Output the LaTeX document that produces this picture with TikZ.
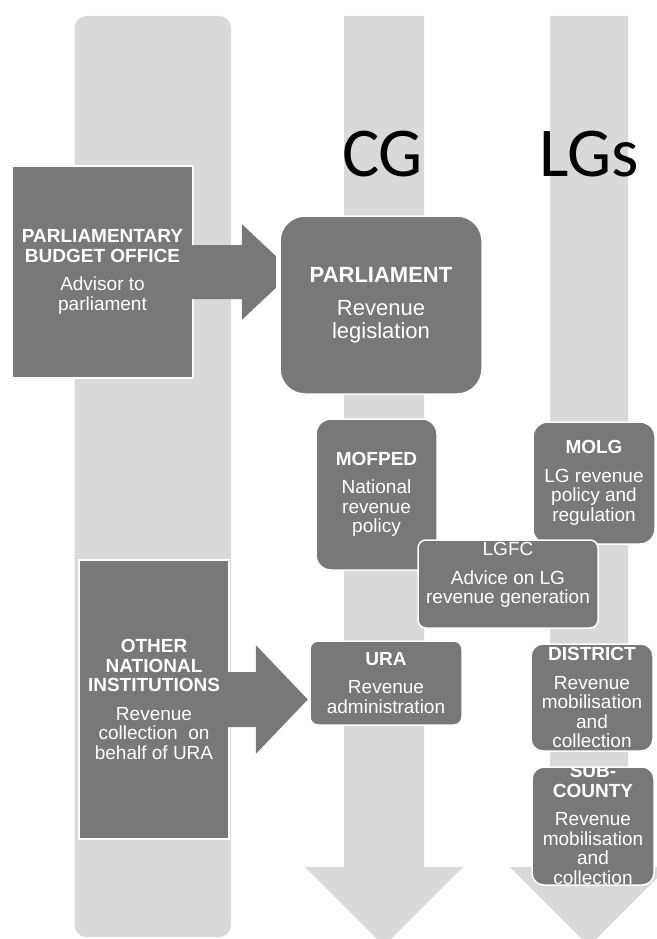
\documentclass[tikz,border=0pt]{standalone}
\usepackage{fontspec}
\setmainfont{Liberation Sans}
\newfontfamily\calfont{Carlito}
\usetikzlibrary{calc}
\definecolor{boxgray}{HTML}{787878}
\definecolor{shaftgray}{HTML}{D9D9D9}
\tikzset{
  box/.style={fill=boxgray, draw=white, line width=1.5pt, text=white, align=center, inner sep=0pt, font=\fontsize{19}{19.5}\selectfont},
  txt/.style={text=white, align=center, inner sep=0pt, draw=none, fill=none, font=\fontsize{19}{19.5}\selectfont},
  big/.style={font=\calfont\fontsize{70}{70}\selectfont, inner sep=0pt, anchor=base west, text=black},
  shaft/.style={fill=shaftgray},
  blockarrow/.style={fill=boxgray}
}
\begin{document}
\begin{tikzpicture}[x=1pt,y=-1pt]
\useasboundingbox (0,0) rectangle (656,939);
\fill[white] (0,0) rectangle (656,939);
% left panel
\node[shaft, rounded corners=12pt, minimum width=156.5pt, minimum height=921pt, inner sep=0pt] (panel) at (152.75,476.5) {};
% CG and LGs down arrows
\fill[shaft] (344,16) -- (424,16) -- (424,867) -- (463,867) -- (384,946) -- (305,867) -- (344,867) -- cycle;
\fill[shaft] (550,16) -- (628,16) -- (628,867) -- (668,867) -- (589,946) -- (510,867) -- (550,867) -- cycle;
\node[big] (cg) at (342,176) {CG};
\node[big] (lgs) at (539,176) {LGs};
% PBO
\node[box, minimum width=181pt, minimum height=212pt] (pbo) at (102.5,272)
  {\textbf{PARLIAMENTARY}\\\textbf{BUDGET OFFICE}\\[9pt]Advisor to\\parliament};
\fill[blockarrow] ($(pbo.east)+(-2,-27)$) -- ($(pbo.east)+(48,-27)$) -- ($(pbo.east)+(48,-48)$)
  -- ($(pbo.east)+(82,-16)$) -- ($(pbo.east)+(82,16)$) -- ($(pbo.east)+(48,48)$)
  -- ($(pbo.east)+(48,27)$) -- ($(pbo.east)+(-2,27)$) -- cycle;
% Parliament
\node[box, rounded corners=25pt, minimum width=202pt, minimum height=178pt, font=\fontsize{22}{23}\selectfont] (parl) at (381,305)
  {\textbf{PARLIAMENT}\\[10pt]Revenue\\legislation};
% MOFPED, MOLG
\node[box, rounded corners=15pt, minimum width=121pt, minimum height=151pt] (mofped) at (376.5,494.5)
  {\textbf{MOFPED}\\[9pt]National\\revenue\\policy};
\node[box, rounded corners=15pt, minimum width=122pt, minimum height=122pt] (molg) at (594,483)
  {\textbf{MOLG}\\[9pt]LG revenue\\policy and\\regulation};
% LGFC
\node[box, rounded corners=8pt, minimum width=180pt, minimum height=88pt] (lgfc) at (508,584) {};
\node[txt] (lgfctext) at (508,575) {LGFC\\[9pt]Advice on LG\\revenue generation};
% Other national institutions
\node[box, minimum width=150pt, minimum height=279pt] (oth) at (154,699.5)
  {\textbf{OTHER}\\\textbf{NATIONAL}\\\textbf{INSTITUTIONS}\\[9pt]Revenue\\collection~ on\\behalf of URA};
\fill[blockarrow] ($(oth.east)+(-2,-27.5)$) -- ($(oth.east)+(26,-27.5)$) -- ($(oth.east)+(26,-54.5)$)
  -- ($(oth.east)+(78,0)$) -- ($(oth.east)+(26,54.5)$)
  -- ($(oth.east)+(26,27.5)$) -- ($(oth.east)+(-2,27.5)$) -- cycle;
% URA
\node[box, rounded corners=8pt, minimum width=152pt, minimum height=84pt] (ura) at (386,683)
  {\textbf{URA}\\[9pt]Revenue\\administration};
% District
\node[box, rounded corners=12pt, minimum width=122pt, minimum height=107pt,
  path picture={\node[txt] (disttext) at (path picture bounding box.center)
    {\textbf{DISTRICT}\\[9pt]Revenue\\mobilisation\\and\\collection};}] (dist) at (592,697.5) {};
% Sub-county
\node[box, rounded corners=12pt, minimum width=122pt, minimum height=118pt,
  path picture={\node[txt] (subtext) at ($(path picture bounding box.center)+(0,-1.5)$)
    {\textbf{SUB-}\\\textbf{COUNTY}\\[9pt]Revenue\\mobilisation\\and\\collection};}] (sub) at (593,826) {};
\end{tikzpicture}
\end{document}
